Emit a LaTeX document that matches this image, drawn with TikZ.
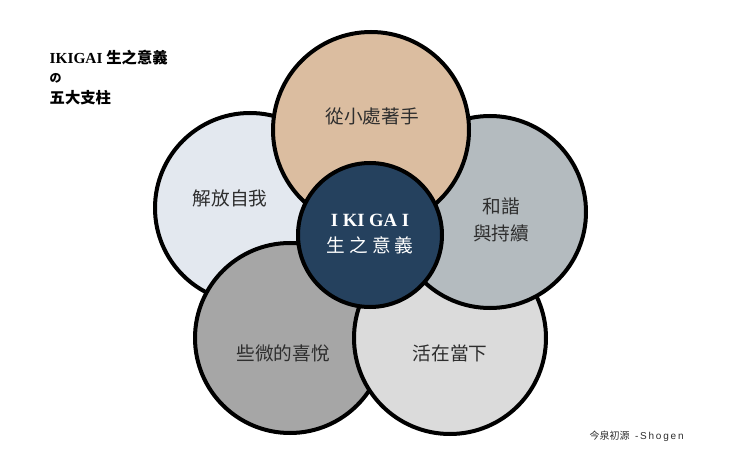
\documentclass[tikz,border=0pt]{standalone}
\usepackage{fontspec}
\setmainfont{Liberation Serif}
\newfontfamily\cjk{Noto Sans CJK TC}
\newfontfamily\spsans{Liberation Sans}[LetterSpace=18]
\definecolor{beige}{HTML}{DBBDA0}
\definecolor{paleblue}{HTML}{E3E8EF}
\definecolor{bluegray}{HTML}{B4BBBF}
\definecolor{midgray}{HTML}{A6A6A6}
\definecolor{litegray}{HTML}{DBDBDB}
\definecolor{navy}{HTML}{25415E}
\definecolor{ink}{HTML}{2E2E2E}
\begin{document}
\begin{tikzpicture}[x=0.75pt,y=-0.75pt,
  pillar/.style={circle, draw=black, line width=3pt, inner sep=0pt, minimum size=142.5pt},
  lbl/.style={font=\cjk\fontsize{14}{20}\selectfont, text=ink, align=center}]
\useasboundingbox (0,0) rectangle (740,467);
\fill[white] (0,0) rectangle (740,467);
% circles, back to front
\node[pillar, fill=paleblue] (left) at (250,208) {};
\node[pillar, fill=midgray] (botleft) at (290,338) {};
\node[pillar, fill=litegray, minimum size=144pt] (botright) at (450,338) {};
\node[pillar, fill=bluegray, minimum size=144pt] (right) at (490,212) {};
\node[pillar, fill=beige, minimum size=147pt] (top) at (371,130) {};
\node[pillar, fill=navy, minimum size=108pt] (core) at (370,235) {};
% labels
\node[lbl] (ltop) at (372,116) {從小處著手};
\node[lbl] (lleft) at (230,198) {解放自我};
\node[lbl] (lright) at (501,220) {和諧\\與持續};
\node[lbl] (lbl1) at (283,353) {些微的喜悅};
\node[lbl] (lbr) at (450,353) {活在當下};
\node[align=center, text=white, font=\fontsize{14}{19.5}\selectfont] (lcore) at (370,234)
  {\textbf{I KI GA I}\\{\cjk 生 之 意 義}};
% title
\node[anchor=west, font=\bfseries\fontsize{11.5}{14}\selectfont, text=black] (t1) at (45,58) {IKIGAI {\cjk\bfseries 生之意義}};
\node[anchor=west, font=\cjk\bfseries\fontsize{9}{11}\selectfont, text=black] (t2) at (45,78) {の};
\node[anchor=west, font=\cjk\bfseries\fontsize{11.5}{14}\selectfont, text=black] (t3) at (45,98) {五大支柱};
% footer
\node[anchor=west, font=\fontsize{7.5}{9}\selectfont, text=ink] (foot) at (585,436) {{\cjk 今泉初源}\hspace{4pt}{\spsans -Shogen}};
\end{tikzpicture}
\end{document}
